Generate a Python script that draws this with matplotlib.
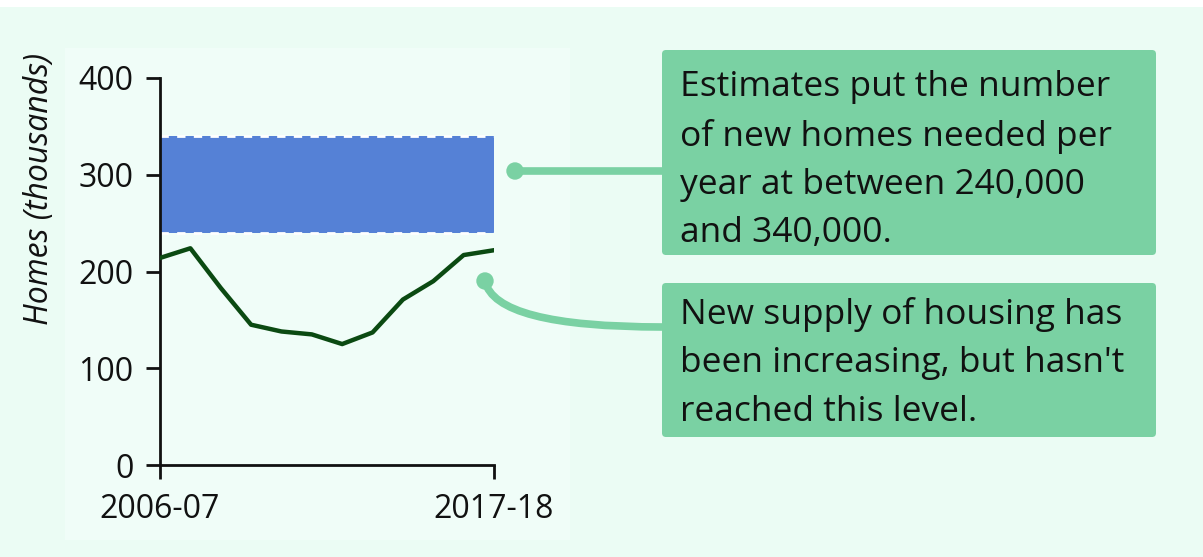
import matplotlib
matplotlib.use("Agg")
from matplotlib import pyplot as plt
from matplotlib.patches import FancyBboxPatch, Rectangle, Circle, PathPatch
from matplotlib.path import Path

# DATA
years = ['2006-07', '2007-08', '2008-09', '2009-10', '2010-11', '2011-12',
         '2012-13', '2013-14', '2014-15', '2015-16', '2016-17', '2017-18']
supply = [214, 224, 183, 145, 138, 135, 125, 137, 171, 190, 217, 222]
needed_low = 240
needed_high = 340
y_ticks = [0, 100, 200, 300, 400]
note_need = "Estimates put the number\nof new homes needed per\nyear at between 240,000\nand 340,000."
note_supply = "New supply of housing has\nbeen increasing, but hasn't\nreached this level."

# STYLE
plt.rcParams['font.family'] = ['Open Sans', 'DejaVu Sans']
W, H = 1203, 557
bg_out = '#ebfcf4'
bg_in = '#f0fdf8'
box_col = '#7ad1a3'
band_col = '#5581d6'
line_col = '#0b4a12'
ink = '#111111'

fig = plt.figure(figsize=(W / 100, H / 100), dpi=100)
fig.patch.set_facecolor(bg_out)

# Overlay axes in pixel coordinates for decorations
over = fig.add_axes([0, 0, 1, 1], zorder=0)
over.set_xlim(0, W)
over.set_ylim(H, 0)
over.axis('off')
over.add_patch(Rectangle((0, 0), W, 7, facecolor='white', edgecolor='none'))
over.add_patch(Rectangle((65, 48), 505, 492, facecolor=bg_in, edgecolor='none'))

# Main chart
ax = fig.add_axes([160 / W, (H - 465) / H, (494 - 160) / W, (465 - 78) / H], zorder=2)
ax.patch.set_alpha(0)
x = list(range(len(years)))
ax.fill_between([x[0], x[-1]], needed_low, needed_high, color=band_col, linewidth=0, zorder=1)
ax.plot([x[0], x[-1]], [needed_high, needed_high], color='white', lw=2, dashes=(3, 3), zorder=2)
ax.plot([x[0], x[-1]], [needed_low, needed_low], color='white', lw=2, dashes=(3, 3), zorder=2)
ax.plot(x, supply, color=line_col, lw=3.2, solid_joinstyle='round', zorder=3)

ax.set_xlim(x[0], x[-1])
ax.set_ylim(0, 400)
ax.set_xticks([x[0], x[-1]])
ax.set_xticklabels([years[0], years[-1]])
ax.set_yticks(y_ticks)
for s in ['top', 'right']:
    ax.spines[s].set_visible(False)
for s in ['left', 'bottom']:
    ax.spines[s].set_linewidth(2)
    ax.spines[s].set_color(ink)
ax.tick_params(axis='both', length=10, width=2, color=ink, labelsize=23, labelcolor=ink)
ax.tick_params(axis='x', pad=10)
ax.tick_params(axis='y', pad=9)
ax.set_ylabel('Homes (thousands)', fontsize=23, style='italic', color=ink)
ax.yaxis.set_label_coords(-0.31, (465 - 189) / (465 - 78))

# Annotation boxes
over.add_patch(FancyBboxPatch((662, 50), 494, 205, boxstyle='round,pad=0,rounding_size=4',
                              facecolor=box_col, edgecolor='none'))
over.add_patch(FancyBboxPatch((662, 283), 494, 154, boxstyle='round,pad=0,rounding_size=4',
                              facecolor=box_col, edgecolor='none'))
over.text(680, 70, note_need, fontsize=25.5, color=ink, va='top', ha='left',
          linespacing=1.55, multialignment='left')
over.text(680, 297, note_supply, fontsize=25.5, color=ink, va='top', ha='left',
          linespacing=1.55, multialignment='left')

# Connectors
over.plot([515, 662], [171, 171], color=box_col, lw=5.5, solid_capstyle='butt')
over.add_patch(Circle((515, 171), 8, color=box_col))
curve = Path([(485, 281), (495, 327), (662, 327)], [Path.MOVETO, Path.CURVE3, Path.CURVE3])
over.add_patch(PathPatch(curve, facecolor='none', edgecolor=box_col, lw=5.5))
over.add_patch(Circle((485, 281), 8, color=box_col))

fig.savefig('out.png', dpi=100, facecolor=fig.get_facecolor())
